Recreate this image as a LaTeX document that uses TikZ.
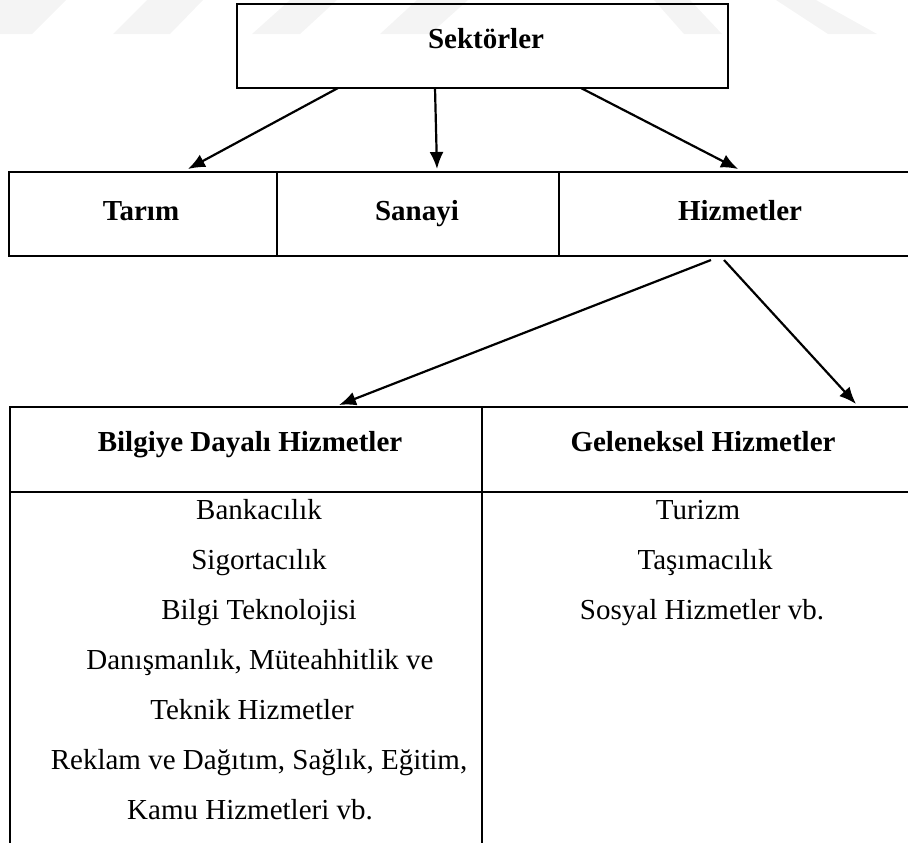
\documentclass[tikz,border=0pt]{standalone}
\usepackage{fontspec}
\setmainfont{Liberation Serif}
\usetikzlibrary{arrows.meta}

\begin{document}
\begin{tikzpicture}[x=0.5pt, y=-0.5pt, >={Latex[length=8.5pt,width=7pt]},
  title/.style={anchor=base, font=\fontsize{14.5}{17}\selectfont\bfseries},
  item/.style={anchor=base, font=\fontsize{14.5}{17}\selectfont},
  frame/.style={line width=1.4pt},
  sep/.style={line width=0.8pt},
  link/.style={line width=1.1pt, ->},
  wmark/.style={fill=gray!9}]
  \useasboundingbox (0,0) rectangle (908,843);
  % watermark stripes
  \fill [wmark] (20,0) -- (66,0) -- (32,34) -- (0,34) -- (0,0) -- cycle;
  \fill [wmark] (147,0) -- (203,0) -- (170,34) -- (113,34) -- cycle;
  \fill [wmark] (290,0) -- (337,0) -- (300,34) -- (252,34) -- cycle;
  \fill [wmark] (417,0) -- (468,0) -- (430,34) -- (380,34) -- cycle;
  \fill [wmark] (654,0) -- (690,0) -- (722,34) -- (684,34) -- cycle;
  \fill [wmark] (776,0) -- (816,0) -- (877,34) -- (828,34) -- cycle;
  % top box
  \draw [frame] (237,4) rectangle (728,88);
  \node (sek) at (486,48) [title] {Sektörler};
  % sector row
  \draw [frame] (908,172) -- (9,172) -- (9,256) -- (908,256);
  \draw [sep] (277,172) -- (277,256);
  \draw [sep] (559,172) -- (559,256);
  \node (tarim) at (141,220) [title] {Tarım};
  \node (sanayi) at (417,220) [title] {Sanayi};
  \node (hizmet) at (740,220) [title] {Hizmetler};
  % services table
  \draw [frame] (908,407) -- (10,407) -- (10,843);
  \draw [frame] (482,407) -- (482,843);
  \draw [frame] (10,492) -- (908,492);
  \node (bilgi) at (250,451) [title] {Bilgiye Dayalı Hizmetler};
  \node (gelenek) at (703,451) [title] {Geleneksel Hizmetler};
  \node (banka) at (259,519) [item] {Bankacılık};
  \node (sigorta) at (259,569) [item] {Sigortacılık};
  \node (tekno) at (259,619) [item] {Bilgi Teknolojisi};
  \node (danis) at (260,669) [item] {Danışmanlık, Müteahhitlik ve};
  \node (teknik) at (252,719) [item] {Teknik Hizmetler};
  \node (reklam) at (259,769) [item] {Reklam ve Dağıtım, Sağlık, Eğitim,};
  \node (kamu) at (250,819) [item] {Kamu Hizmetleri vb.};
  \node (turizm) at (698,519) [item] {Turizm};
  \node (tasima) at (705,569) [item] {Taşımacılık};
  \node (sosyal) at (702,619) [item] {Sosyal Hizmetler vb.};
  % arrows
  \coordinate (sekA) at (338,88);
  \coordinate (sekB) at (435,88);
  \coordinate (sekC) at (581,88);
  \coordinate (tarimIn) at (188,169);
  \coordinate (sanayiIn) at (437,169);
  \coordinate (hizmetIn) at (738,169);
  \coordinate (hizA) at (711,260);
  \coordinate (hizB) at (724,260);
  \coordinate (bilgiIn) at (339,405);
  \coordinate (gelenekIn) at (856,404);
  \draw [link] (sekA) -- (tarimIn);
  \draw [link] (sekB) -- (sanayiIn);
  \draw [link] (sekC) -- (hizmetIn);
  \draw [link] (hizA) -- (bilgiIn);
  \draw [link] (hizB) -- (gelenekIn);
\end{tikzpicture}
\end{document}
